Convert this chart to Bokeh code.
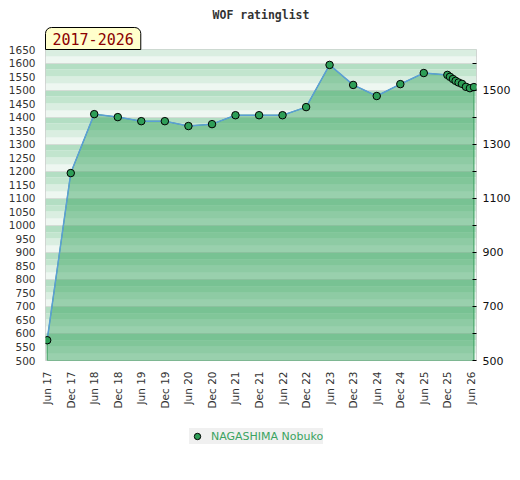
import datetime as dt
from bokeh.plotting import figure
from bokeh.layouts import column
from bokeh.models import (Range1d, LinearAxis, FixedTicker, DatetimeTickFormatter,
                          Legend, LegendItem, Title)
from bokeh.embed import file_html
from bokeh.resources import INLINE

# ---- data ----
chart_title = "WOF ratinglist"
period_label = "2017-2026"
player = "NAGASHIMA Nobuko"

dates = ["2017-06-01", "2017-12-01", "2018-06-01", "2018-12-01", "2019-06-01",
         "2019-12-01", "2020-06-01", "2020-12-01", "2021-06-01", "2021-12-01",
         "2022-06-01", "2022-12-01", "2023-06-01", "2023-12-01", "2024-06-01",
         "2024-12-01", "2025-06-01", "2025-12-01", "2025-12-21", "2026-01-13",
         "2026-02-03", "2026-02-26", "2026-03-24", "2026-04-24", "2026-05-25",
         "2026-06-25"]
ratings = [575, 1193, 1411, 1400, 1385, 1385, 1367, 1374, 1407, 1407,
           1407, 1437, 1593, 1519, 1478, 1522, 1563, 1556, 1549, 1541,
           1534, 1528, 1523, 1512, 1507, 1511]

tick_dates = ["2017-06-01", "2017-12-01", "2018-06-01", "2018-12-01", "2019-06-01",
              "2019-12-01", "2020-06-01", "2020-12-01", "2021-06-01", "2021-12-01",
              "2022-06-01", "2022-12-01", "2023-06-01", "2023-12-01", "2024-06-01",
              "2024-12-01", "2025-06-01", "2025-12-01", "2026-06-01"]
left_ticks = list(range(500, 1651, 50))
right_ticks = [500, 700, 900, 1100, 1300, 1500]
right_minor = [600, 800, 1000, 1200, 1400, 1600]
band_edges = list(range(500, 1700, 25))
band_colors = ["#eef7f1", "#daeee1", "#c2e5ce", "#b3dec3"]

def d(s):
    return dt.datetime.strptime(s, "%Y-%m-%d")

def ms(s):
    return (d(s) - dt.datetime(1970, 1, 1)).total_seconds() * 1000.0

xs = [d(s) for s in dates]

W = 516
p = figure(width=W, height=420, x_axis_type="datetime",
           x_range=Range1d(d("2017-05-19"), d("2026-07-15")),
           y_range=Range1d(500, 1650),
           output_backend="svg", toolbar_location=None,
           min_border_left=45, min_border_right=40, min_border_top=49,
           min_border_bottom=60,
           background_fill_color="white", border_fill_color="white",
           outline_line_color="#cccccc")
p.xgrid.visible = False
p.ygrid.visible = False

# background stripes
y0s = band_edges[:-1]
y1s = band_edges[1:]
cols = [band_colors[((y - 500) // 25) % 4] for y in y0s]
p.hstrip(y0=y0s, y1=y1s, fill_color=cols, line_color=None)
p.hspan(y=right_minor + [1500, 1300, 1100, 900, 700], line_color="#d4dcd6", line_width=1)

# area
px = xs + [xs[-1], xs[0]]
py = ratings + [500, 500]
p.patch(px, py, fill_color="#2ea057", fill_alpha=0.44, line_color="#3a9e5e", line_width=1)
p.line(xs, ratings, line_color="#5b9fd6", line_width=1.5)
p.scatter(xs, ratings, size=7.5, fill_color="#2e9e57", line_color="black", line_width=1)

# left axis
ya = p.yaxis[0]
ya.ticker = FixedTicker(ticks=left_ticks)
ya.major_tick_out = 0
ya.major_tick_in = 0
ya.minor_tick_out = 0
ya.minor_tick_in = 0
ya.axis_line_color = None
ya.major_label_standoff = 10
ya.major_label_text_font = "DejaVu Sans"
ya.major_label_text_font_size = "10.5px"
ya.major_label_text_color = "#333333"

# right axis
ra = LinearAxis(ticker=FixedTicker(ticks=right_ticks, minor_ticks=right_minor))
ra.major_tick_in = 4
ra.major_tick_out = 0
ra.minor_tick_in = 4
ra.minor_tick_out = 0
ra.major_tick_line_color = "black"
ra.minor_tick_line_color = "black"
ra.axis_line_color = None
ra.major_label_standoff = 6
ra.major_label_text_font = "DejaVu Sans"
ra.major_label_text_font_size = "11px"
ra.major_label_text_color = "#111111"
p.add_layout(ra, "right")

# bottom axis
xa = p.xaxis[0]
xa.ticker = FixedTicker(ticks=[ms(s) for s in tick_dates])
fmt = "%b %y"
xa.formatter = DatetimeTickFormatter(milliseconds=fmt, seconds=fmt, minsec=fmt, minutes=fmt,
                                     hourmin=fmt, hours=fmt, days=fmt, months=fmt, years=fmt)
xa.major_label_orientation = 1.5707963
xa.major_tick_out = 0
xa.major_tick_in = 0
xa.minor_tick_out = 0
xa.minor_tick_in = 0
xa.axis_line_color = None
xa.major_label_standoff = 11
xa.major_label_text_font = "DejaVu Sans"
xa.major_label_text_font_size = "10.5px"
xa.major_label_text_color = "#333333"

# period badge (as a left-aligned title right above the frame)
badge = Title(text=period_label, align="left", offset=0, standoff=0,
              text_font="DejaVu Sans Mono", text_font_size="15px", text_color="#8b0000",
              text_font_style="normal",
              background_fill_color="#ffffcc", border_line_color="black", border_line_width=1,
              padding=dict(left=7, right=7, top=5, bottom=5),
              border_radius=dict(top_left=6, top_right=6, bottom_right=0, bottom_left=0))
p.add_layout(badge, "above")

# main title
p.title.text = chart_title
p.title.align = "center"
p.title.text_font = "DejaVu Sans Mono"
p.title.text_font_size = "11.5px"
p.title.text_font_style = "bold"
p.title.text_color = "#333333"
p.title.standoff = 8

# legend strip below the chart (frames of a column are aligned)
lf = figure(width=W, height=50, x_range=Range1d(0, 1), y_range=Range1d(0, 1),
            output_backend="svg", toolbar_location=None,
            x_axis_location=None, y_axis_location=None,
            min_border=0, min_border_left=0, min_border_right=0,
            min_border_top=0, min_border_bottom=0,
            outline_line_color=None, background_fill_color="white",
            border_fill_color="white")
lf.xgrid.visible = False
lf.ygrid.visible = False
# legend proxy: one point kept outside the visible range
proxy = lf.scatter(x=[-5], y=[-5], size=7.5, fill_color="#2e9e57", line_color="black", line_width=1)
legend = Legend(items=[LegendItem(label=player, renderers=[proxy])],
                location=(144, 26), orientation="horizontal",
                background_fill_color="#f0f0f0", background_fill_alpha=1,
                border_line_color=None, padding=2, margin=0,
                glyph_width=16, glyph_height=16, label_height=16, label_standoff=6,
                label_text_font="DejaVu Sans", label_text_font_size="11px",
                label_text_color="#3aa35f")
lf.add_layout(legend)

layout = column(p, lf, spacing=0)
open("out.html", "w").write(file_html(layout, INLINE))
